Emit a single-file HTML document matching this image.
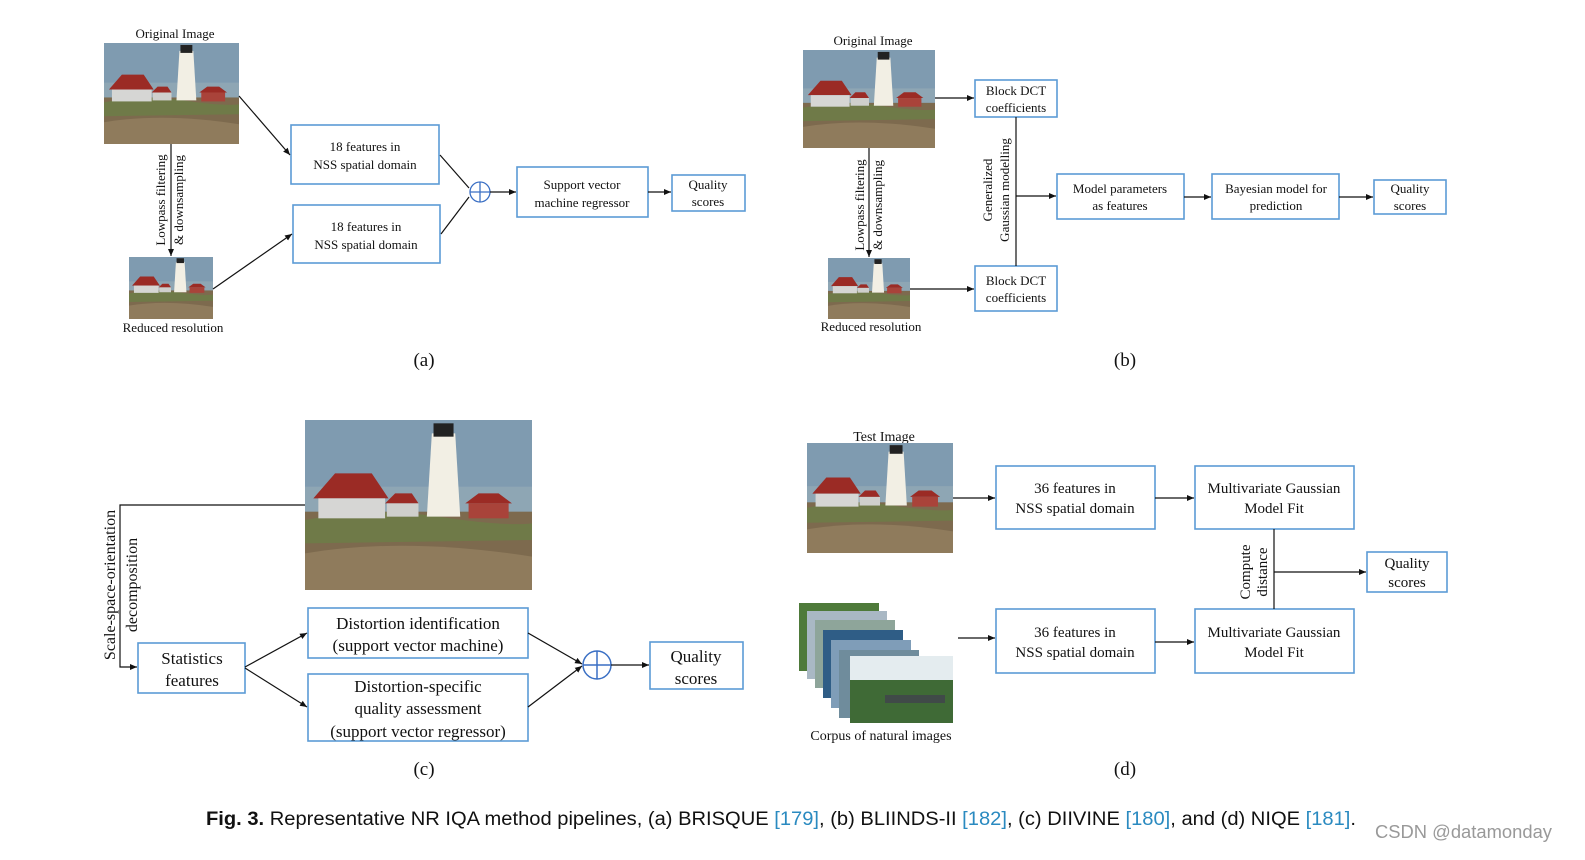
<!DOCTYPE html>
<html><head><meta charset="utf-8"><style>
html,body{margin:0;padding:0;background:#fff;width:1585px;height:860px;overflow:hidden}
svg{display:block}
.s{font-family:"Liberation Serif",serif;fill:#111}
.bx{fill:#fff;stroke:#5b9bd5;stroke-width:1.6}
.ln{stroke:#111;stroke-width:1.2;fill:none}
</style></head><body>
<svg width="1585" height="860" viewBox="0 0 1585 860" xmlns="http://www.w3.org/2000/svg">
<defs>
<marker id="ar" markerWidth="8" markerHeight="8" refX="7" refY="4" orient="auto" markerUnits="userSpaceOnUse"><path d="M0,1 L7,4 L0,7 z" fill="#111"/></marker>
<symbol id="lh" viewBox="0 0 136 102" preserveAspectRatio="none">
<rect width="136" height="102" fill="#8ea6b4"/>
<rect y="0" width="136" height="40" fill="#7f9bb0"/>
<rect y="55" width="136" height="47" fill="#7d6a4e"/>
<path d="M0,60 Q40,52 80,58 T136,62 L136,72 L0,74z" fill="#6f7a48"/>
<path d="M0,80 Q60,70 136,82 L136,102 L0,102z" fill="#8f7b5c"/>
<polygon points="5,47 18,32 40,32 50,47" fill="#9b2b25"/>
<rect x="8" y="47" width="40" height="12" fill="#d6d6d4"/>
<polygon points="48,50 54,44 64,44 68,50" fill="#9b2b25"/>
<rect x="49" y="50" width="19" height="8" fill="#cfcfcc"/>
<polygon points="76,8 90,8 93,58 73,58" fill="#f2efe4"/>
<rect x="77" y="2" width="12" height="8" fill="#222"/>
<polygon points="96,50 104,44 116,44 124,50" fill="#9b2b25"/>
<rect x="98" y="50" width="24" height="9" fill="#a9433a"/>
</symbol>
</defs>

<!-- (a) -->
<text class="s" x="175" y="38" font-size="13" text-anchor="middle">Original Image</text>
<use href="#lh" x="104" y="43" width="135" height="101"/>
<use href="#lh" x="129" y="257" width="84" height="62"/>
<text class="s" x="173" y="332" font-size="13" text-anchor="middle">Reduced resolution</text>
<line class="ln" x1="171" y1="144" x2="171" y2="256" marker-end="url(#ar)"/>
<text class="s" font-size="13" text-anchor="middle" transform="translate(165,200) rotate(-90)">Lowpass filtering</text>
<text class="s" font-size="13" text-anchor="middle" transform="translate(183,200) rotate(-90)">&amp; downsampling</text>
<rect class="bx" x="291" y="125" width="148" height="59"/>
<text class="s" x="365" y="151" font-size="13" text-anchor="middle">18 features in</text>
<text class="s" x="365" y="169" font-size="13" text-anchor="middle">NSS spatial domain</text>
<rect class="bx" x="293" y="205" width="147" height="58"/>
<text class="s" x="366" y="231" font-size="13" text-anchor="middle">18 features in</text>
<text class="s" x="366" y="249" font-size="13" text-anchor="middle">NSS spatial domain</text>
<circle cx="480" cy="192" r="10" fill="none" stroke="#3a6fc4" stroke-width="1.3"/>
<line x1="470" y1="192" x2="490" y2="192" stroke="#3a6fc4" stroke-width="1.3"/>
<line x1="480" y1="182" x2="480" y2="202" stroke="#3a6fc4" stroke-width="1.3"/>
<rect class="bx" x="517" y="167" width="131" height="50"/>
<text class="s" x="582" y="189" font-size="13" text-anchor="middle">Support vector</text>
<text class="s" x="582" y="207" font-size="13" text-anchor="middle">machine regressor</text>
<rect class="bx" x="672" y="175" width="73" height="36"/>
<text class="s" x="708" y="189" font-size="13" text-anchor="middle">Quality</text>
<text class="s" x="708" y="206" font-size="13" text-anchor="middle">scores</text>
<line class="ln" x1="239" y1="96" x2="290" y2="155" marker-end="url(#ar)"/>
<line class="ln" x1="213" y1="289" x2="292" y2="234" marker-end="url(#ar)"/>
<line class="ln" x1="440" y1="155" x2="469" y2="188"/>
<line class="ln" x1="441" y1="234" x2="469" y2="197"/>
<line class="ln" x1="490" y1="192" x2="516" y2="192" marker-end="url(#ar)"/>
<line class="ln" x1="648" y1="192" x2="671" y2="192" marker-end="url(#ar)"/>
<text class="s" x="424" y="366" font-size="19" text-anchor="middle">(a)</text>

<!-- (b) -->
<text class="s" x="873" y="45" font-size="13" text-anchor="middle">Original Image</text>
<use href="#lh" x="803" y="50" width="132" height="98"/>
<use href="#lh" x="828" y="258" width="82" height="61"/>
<text class="s" x="871" y="331" font-size="13" text-anchor="middle">Reduced resolution</text>
<line class="ln" x1="869" y1="148" x2="869" y2="257" marker-end="url(#ar)"/>
<text class="s" font-size="13" text-anchor="middle" transform="translate(864,205) rotate(-90)">Lowpass filtering</text>
<text class="s" font-size="13" text-anchor="middle" transform="translate(882,205) rotate(-90)">&amp; downsampling</text>
<rect class="bx" x="975" y="80" width="82" height="37"/>
<text class="s" x="1016" y="95" font-size="13" text-anchor="middle">Block DCT</text>
<text class="s" x="1016" y="112" font-size="13" text-anchor="middle">coefficients</text>
<rect class="bx" x="975" y="266" width="82" height="45"/>
<text class="s" x="1016" y="285" font-size="13" text-anchor="middle">Block DCT</text>
<text class="s" x="1016" y="302" font-size="13" text-anchor="middle">coefficients</text>
<line class="ln" x1="935" y1="98" x2="974" y2="98" marker-end="url(#ar)"/>
<line class="ln" x1="910" y1="289" x2="974" y2="289" marker-end="url(#ar)"/>
<line class="ln" x1="1016" y1="117" x2="1016" y2="266"/>
<line class="ln" x1="1016" y1="196" x2="1056" y2="196" marker-end="url(#ar)"/>
<text class="s" font-size="13" text-anchor="middle" transform="translate(992,190) rotate(-90)">Generalized</text>
<text class="s" font-size="13" text-anchor="middle" transform="translate(1009,190) rotate(-90)">Gaussian modelling</text>
<rect class="bx" x="1057" y="174" width="127" height="45"/>
<text class="s" x="1120" y="193" font-size="13" text-anchor="middle">Model parameters</text>
<text class="s" x="1120" y="210" font-size="13" text-anchor="middle">as features</text>
<rect class="bx" x="1212" y="174" width="127" height="45"/>
<text class="s" x="1276" y="193" font-size="13" text-anchor="middle">Bayesian model for</text>
<text class="s" x="1276" y="210" font-size="13" text-anchor="middle">prediction</text>
<rect class="bx" x="1374" y="180" width="72" height="34"/>
<text class="s" x="1410" y="193" font-size="13" text-anchor="middle">Quality</text>
<text class="s" x="1410" y="210" font-size="13" text-anchor="middle">scores</text>
<line class="ln" x1="1184" y1="197" x2="1211" y2="197" marker-end="url(#ar)"/>
<line class="ln" x1="1339" y1="197" x2="1373" y2="197" marker-end="url(#ar)"/>
<text class="s" x="1125" y="366" font-size="19" text-anchor="middle">(b)</text>

<!-- (c) -->
<use href="#lh" x="305" y="420" width="227" height="170"/>
<path class="ln" d="M305,505 L120,505 L120,667 L137,667" marker-end="url(#ar)"/>
<text class="s" font-size="16" text-anchor="middle" transform="translate(115,585) rotate(-90)">Scale-space-orientation</text>
<text class="s" font-size="16" text-anchor="middle" transform="translate(137,585) rotate(-90)">decomposition</text>
<rect class="bx" x="138" y="643" width="107" height="50"/>
<text class="s" x="192" y="664" font-size="17" text-anchor="middle">Statistics</text>
<text class="s" x="192" y="686" font-size="17" text-anchor="middle">features</text>
<rect class="bx" x="308" y="608" width="220" height="50"/>
<text class="s" x="418" y="629" font-size="17" text-anchor="middle">Distortion identification</text>
<text class="s" x="418" y="651" font-size="17" text-anchor="middle">(support vector machine)</text>
<rect class="bx" x="308" y="674" width="220" height="67"/>
<text class="s" x="418" y="692" font-size="17" text-anchor="middle">Distortion-specific</text>
<text class="s" x="418" y="714" font-size="17" text-anchor="middle">quality assessment</text>
<text class="s" x="418" y="737" font-size="17" text-anchor="middle">(support vector regressor)</text>
<circle cx="597" cy="665" r="14" fill="none" stroke="#3a6fc4" stroke-width="1.5"/>
<line x1="583" y1="665" x2="611" y2="665" stroke="#3a6fc4" stroke-width="1.5"/>
<line x1="597" y1="651" x2="597" y2="679" stroke="#3a6fc4" stroke-width="1.5"/>
<rect class="bx" x="650" y="642" width="93" height="47"/>
<text class="s" x="696" y="662" font-size="17" text-anchor="middle">Quality</text>
<text class="s" x="696" y="684" font-size="17" text-anchor="middle">scores</text>
<line class="ln" x1="245" y1="667" x2="307" y2="633" marker-end="url(#ar)"/>
<line class="ln" x1="245" y1="668" x2="307" y2="707" marker-end="url(#ar)"/>
<line class="ln" x1="528" y1="633" x2="582" y2="664" marker-end="url(#ar)"/>
<line class="ln" x1="528" y1="707" x2="582" y2="666" marker-end="url(#ar)"/>
<line class="ln" x1="611" y1="665" x2="649" y2="665" marker-end="url(#ar)"/>
<text class="s" x="424" y="775" font-size="19" text-anchor="middle">(c)</text>

<!-- (d) -->
<text class="s" x="884" y="441" font-size="14" text-anchor="middle">Test Image</text>
<use href="#lh" x="807" y="443" width="146" height="110"/>
<rect x="799" y="603" width="80" height="68" fill="#4e7a3a"/>
<rect x="807" y="611" width="80" height="68" fill="#a9b8c4"/>
<rect x="815" y="620" width="80" height="68" fill="#8ea59a"/>
<rect x="823" y="630" width="80" height="68" fill="#2f5d86"/>
<rect x="831" y="640" width="80" height="68" fill="#7f9db8"/>
<rect x="839" y="650" width="80" height="68" fill="#6f8c9c"/>
<rect x="850" y="656" width="103" height="67" fill="#e4ecef"/>
<rect x="850" y="680" width="103" height="43" fill="#3f6a36"/>
<rect x="885" y="695" width="60" height="8" fill="#404a48"/>
<text class="s" x="881" y="740" font-size="14" text-anchor="middle">Corpus of natural images</text>
<rect class="bx" x="996" y="466" width="159" height="63"/>
<text class="s" x="1075" y="493" font-size="15" text-anchor="middle">36 features in</text>
<text class="s" x="1075" y="513" font-size="15" text-anchor="middle">NSS spatial domain</text>
<rect class="bx" x="996" y="609" width="159" height="64"/>
<text class="s" x="1075" y="637" font-size="15" text-anchor="middle">36 features in</text>
<text class="s" x="1075" y="657" font-size="15" text-anchor="middle">NSS spatial domain</text>
<rect class="bx" x="1195" y="466" width="159" height="63"/>
<text class="s" x="1274" y="493" font-size="15" text-anchor="middle">Multivariate Gaussian</text>
<text class="s" x="1274" y="513" font-size="15" text-anchor="middle">Model Fit</text>
<rect class="bx" x="1195" y="609" width="159" height="64"/>
<text class="s" x="1274" y="637" font-size="15" text-anchor="middle">Multivariate Gaussian</text>
<text class="s" x="1274" y="657" font-size="15" text-anchor="middle">Model Fit</text>
<rect class="bx" x="1367" y="552" width="80" height="40"/>
<text class="s" x="1407" y="568" font-size="15" text-anchor="middle">Quality</text>
<text class="s" x="1407" y="587" font-size="15" text-anchor="middle">scores</text>
<line class="ln" x1="953" y1="498" x2="995" y2="498" marker-end="url(#ar)"/>
<line class="ln" x1="1155" y1="498" x2="1194" y2="498" marker-end="url(#ar)"/>
<line class="ln" x1="958" y1="638" x2="995" y2="638" marker-end="url(#ar)"/>
<line class="ln" x1="1155" y1="642" x2="1194" y2="642" marker-end="url(#ar)"/>
<line class="ln" x1="1274" y1="529" x2="1274" y2="609" stroke-width="1.6"/>
<line class="ln" x1="1274" y1="572" x2="1366" y2="572" marker-end="url(#ar)"/>
<text class="s" font-size="15" text-anchor="middle" transform="translate(1250,572) rotate(-90)">Compute</text>
<text class="s" font-size="15" text-anchor="middle" transform="translate(1267,572) rotate(-90)">distance</text>
<text class="s" x="1125" y="775" font-size="19" text-anchor="middle">(d)</text>

<!-- caption -->
<text x="206" y="825" font-family="Liberation Sans, sans-serif" font-size="19" fill="#111" textLength="1150" lengthAdjust="spacingAndGlyphs"><tspan font-weight="bold">Fig. 3.</tspan> Representative NR IQA method pipelines, (a) BRISQUE <tspan fill="#2a8ac0">[179]</tspan>, (b) BLIINDS-II <tspan fill="#2a8ac0">[182]</tspan>, (c) DIIVINE <tspan fill="#2a8ac0">[180]</tspan>, and (d) NIQE <tspan fill="#2a8ac0">[181]</tspan>.</text>
<text x="1375" y="838" font-family="Liberation Sans, sans-serif" font-size="18" fill="#999" textLength="177" lengthAdjust="spacingAndGlyphs">CSDN @datamonday</text>
</svg>
</body></html>
